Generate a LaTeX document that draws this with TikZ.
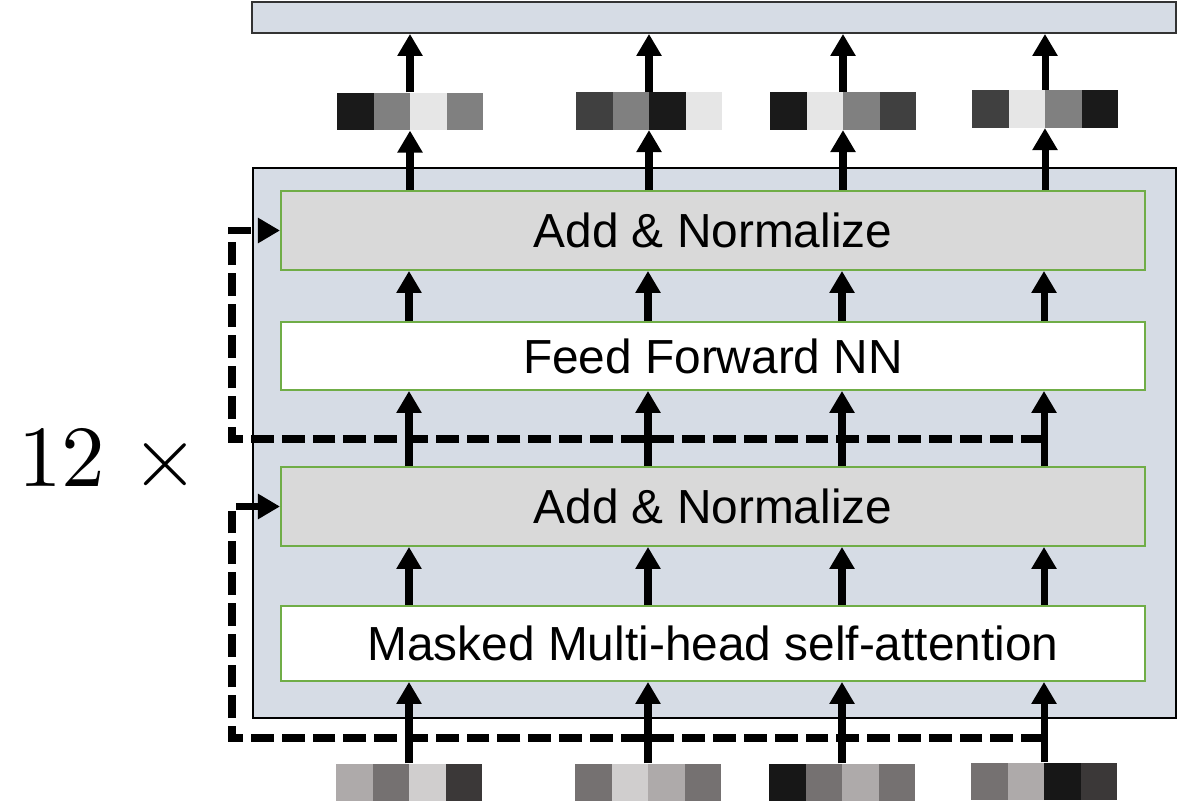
\documentclass[tikz,border=0pt]{standalone}
\usepackage[no-math]{fontspec}
\setmainfont{Liberation Sans}
\newfontfamily\repsfont{lmroman10-regular.otf}
\usetikzlibrary{arrows.meta}
\definecolor{blockfill}{HTML}{D6DCE5}
\definecolor{layergreen}{HTML}{70AD47}
\definecolor{normfill}{HTML}{D9D9D9}
\definecolor{k1}{HTML}{1A1A1A}
\definecolor{k2}{HTML}{808080}
\definecolor{k3}{HTML}{E6E6E6}
\definecolor{k4}{HTML}{404040}
\definecolor{g1}{HTML}{AEAAAA}
\definecolor{g2}{HTML}{757171}
\definecolor{g3}{HTML}{D0CECE}
\definecolor{g4}{HTML}{3B3838}
\definecolor{g5}{HTML}{171717}
\tikzset{
  layer/.style={draw=layergreen,line width=1.3pt,minimum width=21.6cm,inner sep=0pt,
    font=\fontsize{34}{40}\selectfont},
  vec/.style={minimum width=3.65cm,minimum height=0.94cm,inner sep=0pt},
  uparr/.style={line width=5pt,-{Triangle[width=0.6cm,length=0.55cm]}},
  resid/.style={uparr,dash pattern=on 0.57cm off 0.2cm}
}

\begin{document}
\begin{tikzpicture}[x=0.025cm,y=-0.025cm]
  \useasboundingbox (0,0) rectangle (1188,801);
  \node (outbox) at (714,17.5)[draw=black!80,fill=blockfill,line width=1.3pt,
    minimum width=23.1cm,minimum height=0.775cm,inner sep=0pt]{};
  \node (block) at (714.5,443)[draw=black,fill=blockfill,line width=1.3pt,
    minimum width=23.075cm,minimum height=13.75cm,inner sep=0pt]{};
  \node (addtop) at (713,230.5)[layer,fill=normfill,minimum height=1.975cm]{Add \& Normalize};
  \node (ffnn) at (713,356)[layer,fill=white,minimum height=1.7cm]{Feed Forward NN};
  \node (addbot) at (713,506.5)[layer,fill=normfill,minimum height=1.975cm]{Add \& Normalize};
  \node (attn) at (713,643.5)[layer,fill=white,minimum height=1.875cm]{Masked Multi-head self-attention};
  \node (reps) at (18,486)[anchor=base west,inner sep=0pt,font=\repsfont\fontsize{62}{70}\selectfont]{12\hspace{0.3em}×};
  \foreach \x/\y/\c[count=\i] in {
    410/111.5/{k1,k2,k3,k2},
    649/111/{k4,k2,k1,k3},
    843/111/{k1,k3,k2,k4},
    1045/109/{k4,k3,k2,k1}%
  }
  {
    \node (out\i) at (\x,\y)[vec]{};
    \foreach \cc[count=\j] in \c
      {\fill[\cc](\x-109.5+36.5*\j,\y-18.75)rectangle ++(36.5,37.5);}
  }
  \foreach \x/\y/\c[count=\i] in {
    409/782.5/{g1,g2,g3,g4},
    648/782.5/{g2,g3,g1,g2},
    842/782.5/{g5,g2,g1,g2},
    1044/781.5/{g2,g1,g5,g4}%
  }
  {
    \node (in\i) at (\x,\y)[vec]{};
    \foreach \cc[count=\j] in \c
      {\fill[\cc](\x-109.5+36.5*\j,\y-18.75)rectangle ++(36.5,37.5);}
  }
  \coordinate (tap1) at (1044,738);
  \coordinate (bend1) at (232,738);
  \coordinate (tap2) at (1044,439);
  \coordinate (bend2) at (232,439);
  \draw[resid] (tap1) -- (bend1) |- (addbot.west);
  \draw[resid] (tap2) -- (bend2) |- (addtop.west);
  \foreach \i in {1,...,4}
  {
    \draw[uparr] (in\i.north) -- (attn.south -| in\i);
    \draw[uparr] (attn.north -| in\i) -- (addbot.south -| in\i);
    \draw[uparr] (addbot.north -| in\i) -- (ffnn.south -| in\i);
    \draw[uparr] (ffnn.north -| in\i) -- (addtop.south -| in\i);
    \draw[uparr] (addtop.north -| out\i) -- (out\i.south);
    \draw[uparr] (out\i.north) -- (outbox.south -| out\i);
  }
\end{tikzpicture}
\end{document}
